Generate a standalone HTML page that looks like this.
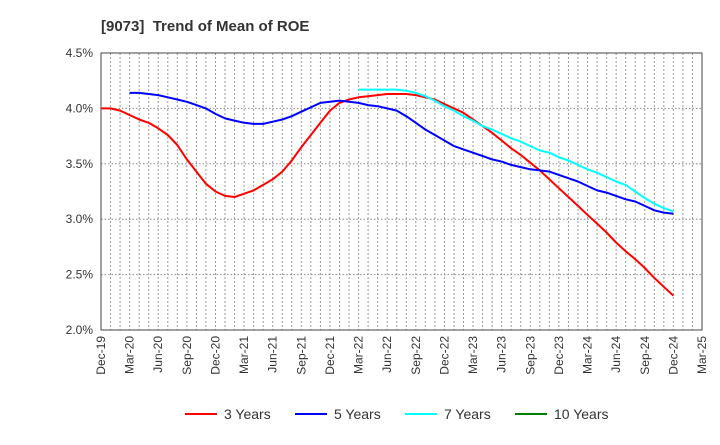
<!DOCTYPE html>
<html><head><meta charset="utf-8"><style>
body{margin:0;background:#fff;font-family:"Liberation Sans",sans-serif;}
svg text{font-family:"Liberation Sans",sans-serif;}
</style></head><body>
<svg id="chart" width="720" height="440">
<text x="101" y="31" font-size="15" font-weight="bold" fill="#333">[9073]&#160; Trend of Mean of ROE</text>
<g id="grid"></g><g id="axes"></g><g id="series"></g><g id="legend"></g>
</svg>
<script>
const xLabels=["Dec-19","Mar-20","Jun-20","Sep-20","Dec-20","Mar-21","Jun-21","Sep-21","Dec-21","Mar-22","Jun-22","Sep-22","Dec-22","Mar-23","Jun-23","Sep-23","Dec-23","Mar-24","Jun-24","Sep-24","Dec-24","Mar-25"];
const yTicks=[2.0,2.5,3.0,3.5,4.0,4.5];
const seriesNames=["3 Years","5 Years","7 Years","10 Years"];
const seriesColors=["#ff0000","#0000ff","#00ffff","#008000"];
const start3=0;
const values3=[4.00,4.00,3.98,3.94,3.90,3.87,3.82,3.76,3.67,3.54,3.43,3.32,3.25,3.21,3.20,3.23,3.26,3.31,3.36,3.43,3.53,3.65,3.76,3.87,3.98,4.05,4.08,4.10,4.11,4.12,4.13,4.13,4.13,4.12,4.10,4.08,4.04,4.00,3.96,3.90,3.84,3.78,3.71,3.64,3.58,3.51,3.44,3.36,3.28,3.20,3.12,3.04,2.96,2.88,2.79,2.71,2.64,2.56,2.47,2.39,2.31];
const start5=3;
const values5=[4.14,4.14,4.13,4.12,4.10,4.08,4.06,4.03,4.00,3.95,3.91,3.89,3.87,3.86,3.86,3.88,3.90,3.93,3.97,4.01,4.05,4.06,4.07,4.06,4.05,4.03,4.02,4.00,3.98,3.93,3.87,3.81,3.76,3.71,3.66,3.63,3.60,3.57,3.54,3.52,3.49,3.47,3.45,3.44,3.43,3.40,3.37,3.34,3.30,3.26,3.24,3.21,3.18,3.16,3.12,3.08,3.06,3.05];
const start7=27;
const values7=[4.17,4.17,4.17,4.17,4.17,4.16,4.14,4.11,4.07,4.02,3.98,3.93,3.89,3.84,3.81,3.77,3.73,3.70,3.66,3.62,3.60,3.56,3.53,3.49,3.45,3.42,3.38,3.34,3.31,3.25,3.19,3.14,3.10,3.07];
const L=101,R=702,T=53,B=330,months=63;
const xS=i=>L+i*(R-L)/months;
const yS=v=>B-(v-2.0)/(2.5)*(B-T);
const NS="http://www.w3.org/2000/svg";
function mk(tag,parent,attrs){const e=document.createElementNS(NS,tag);for(const k in attrs)e.setAttribute(k,attrs[k]);parent.appendChild(e);return e;}
const grid=document.getElementById('grid'),axes=document.getElementById('axes'),ser=document.getElementById('series'),leg=document.getElementById('legend');
for(let m=1;m<months;m++){const l=mk('line',grid,{x1:xS(m),x2:xS(m),y1:T,y2:B,stroke:'#999','stroke-dasharray':'2,2','stroke-width':1});

}
yTicks.forEach(v=>{const l=mk('line',grid,{x1:L,x2:R,y1:yS(v),y2:yS(v),stroke:'#888','stroke-dasharray':'1.5,2','stroke-width':1});


const t=mk('text',axes,{x:93,y:yS(v)+4,'text-anchor':'end','font-size':12,fill:'#333'});t.textContent=v.toFixed(1)+'%';

});
const fr=mk('rect',axes,{x:L,y:T,width:R-L,height:B-T,fill:'none',stroke:'#444','stroke-width':1});


xLabels.forEach((s,q)=>{const x=xS(q*3);const t=mk('text',axes,{x:0,y:0,transform:`translate(${x+4},${B+6}) rotate(-90)`,'text-anchor':'end','font-size':12,fill:'#333'});t.textContent=s;

});
function line(vals,st,color,name){const p=vals.map((v,i)=>xS(st+i).toFixed(1)+','+yS(v).toFixed(1)).join(' ');
const e=mk('polyline',ser,{points:p,fill:'none',stroke:color,'stroke-width':2,'stroke-linejoin':'round'});

}
line(values3,start3,seriesColors[0],'series-3-years');
line(values5,start5,seriesColors[1],'series-5-years');
line(values7,start7,seriesColors[2],'series-7-years');
const lx=[185,295,405,515];
seriesNames.forEach((n,i)=>{const g=mk('g',leg,{});


mk('line',g,{x1:lx[i],x2:lx[i]+32,y1:414,y2:414,stroke:seriesColors[i],'stroke-width':2});
const t=mk('text',g,{x:lx[i]+39,y:419,'font-size':14,fill:'#333'});t.textContent=n;});
</script>
</body></html>
